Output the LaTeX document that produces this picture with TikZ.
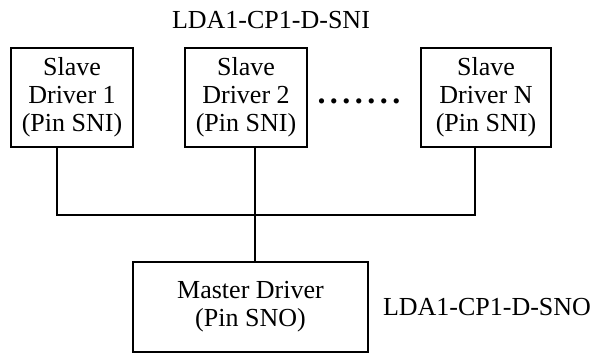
\documentclass[tikz,border=0pt]{standalone}
\usepackage{fontspec}
\setmainfont{Liberation Serif}
\begin{document}
\begin{tikzpicture}[x=1pt,y=-1pt,
  box/.style={draw,line width=1.4pt,rectangle,inner sep=0pt,align=center,
    font=\fontsize{26}{28}\selectfont},
  lbl/.style={inner sep=0pt,font=\fontsize{26}{28}\selectfont},
  wire/.style={line width=1.4pt}]
\useasboundingbox (0,0) rectangle (597,354);
\node[box,minimum width=122pt,minimum height=99pt] (s1) at (72,97.5) {Slave\\Driver 1\\(Pin SNI)};
\node[box,minimum width=122pt,minimum height=99pt] (s2) at (246,97.5) {Slave\\Driver 2\\(Pin SNI)};
\node[box,minimum width=130pt,minimum height=99pt] (sN) at (486,97.5) {Slave\\Driver N\\(Pin SNI)};
\node[box,minimum width=235pt,minimum height=90pt] (m) at (250.5,307) {Master Driver\\(Pin SNO)};
\node[lbl] (top) at (271,20) {LDA1-CP1-D-SNI};
\node[lbl] (bot) at (487,307) {LDA1-CP1-D-SNO};
\node[inner sep=0pt,anchor=base,font=\fontsize{32}{34}\selectfont\bfseries] (dots) at (359,103) {.\hspace{4.5pt}.\hspace{4.5pt}.\hspace{4.5pt}.\hspace{4.5pt}.\hspace{4.5pt}.\hspace{4.5pt}.};
\coordinate (b1) at (57,215);
\coordinate (bm) at (255,215);
\coordinate (bN) at (475,215);
\draw[wire] (s1.south -| b1) -- (b1) -- (bN) -- (sN.south -| bN);
\draw[wire] (s2.south -| bm) -- (m.north -| bm);
\end{tikzpicture}
\end{document}
